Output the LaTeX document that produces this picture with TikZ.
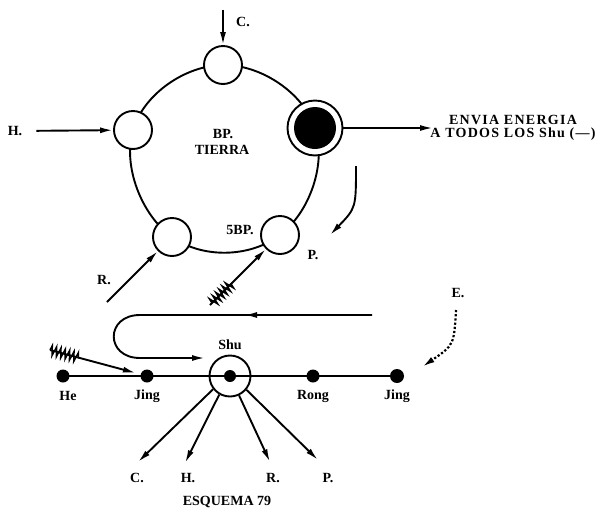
\documentclass[tikz,border=0pt]{standalone}
\usepackage{fontspec}
\setmainfont{Liberation Serif}
\usetikzlibrary{arrows.meta,decorations.pathmorphing,decorations.markings}
\begin{document}
\begin{tikzpicture}[x=1pt,y=-1pt,
  line width=1.9pt,
  every node/.style={font=\bfseries\fontsize{14}{16}\selectfont},
  arr/.style={-{Latex[length=13pt,width=6pt]}},
  ring/.style={circle,draw,fill=white,minimum size=38pt,inner sep=0pt},
  dot/.style={circle,fill=black,minimum size=13pt,inner sep=0pt},
  zz/.style={decorate,decoration={zigzag,amplitude=5pt,segment length=4.5pt},line width=1.4pt},
  wide/.style={align=center,font=\bfseries\fontsize{14}{13}\selectfont\addfontfeature{LetterSpace=9}}
]
\useasboundingbox (0,0) rectangle (603,512);

% ring positions
\coordinate (pt1) at (223,65);
\coordinate (pt2) at (315,128);
\coordinate (pt3) at (280,235);
\coordinate (pt4) at (172,237);
\coordinate (pt5) at (133,130);
\draw plot[smooth cycle, tension=0.75] coordinates {(pt1) (pt2) (pt3) (pt4) (pt5)};

\node[ring] (ct) at (pt1) {};
\node[ring] (cl) at (pt5) {};
\node[ring] (cbl) at (pt4) {};
\node[ring] (cbr) at (pt3) {};
\node[circle,draw,fill=white,minimum size=55pt,inner sep=0pt] (cr) at (pt2) {};
\node[circle,fill=black,minimum size=42pt,inner sep=0pt] (crin) at (pt2) {};

% texts top
\node (bp) at (223,134) {BP.};
\node (tierra) at (222,150) {TIERRA};
\node (sbp) at (240,230) {5BP.};
\node (lp) at (313,255) {P.};
\node (lc) at (243,22) {C.};
\node (lh) at (15,131) {H.};
\node (lr) at (104,280) {R.};
\node[wide] (env) at (513,128) {ENVIA ENERGIA\\A TODOS LOS Shu (—)};

% top arrows
\coordinate (cs) at (223,10);
\draw[arr] (cs) -- (ct);
\draw[arr, shorten <=10pt] (lh) -- (cl);
\coordinate (et) at (433,128);
\draw[arr] (cr) -- (et);
\coordinate (ca) at (356,166);
\coordinate (cb) at (330,235);
\draw[arr] (ca) .. controls (356,208) .. (cb);
\coordinate (rs) at (107,302);
\draw[arr] (rs) -- (cbl);
\coordinate (ps) at (210,305);
\draw[arr] (ps) -- (cbr);
\coordinate (pz1) at (212,303);
\coordinate (pz2) at (232,283);
\draw[zz] (pz1) -- (pz2);

% bottom line
\node[dot] (he) at (63,376) {};
\node[dot] (jl) at (147,376) {};
\node[circle,draw,minimum size=41pt,inner sep=0pt] (shu) at (230,376) {};
\node[dot,minimum size=12pt] (shud) at (230,376) {};
\node[dot] (rong) at (313,376) {};
\node[dot,minimum size=14pt] (jr) at (397,376) {};
\draw (he.center) -- (jl.center) -- (shud.center) -- (rong.center) -- (jr.center);

\node (lhe) at (68,396) {He};
\node (ljl) at (147,396) {Jing};
\node (lrong) at (313,396) {Rong};
\node (ljr) at (397,396) {Jing};
\node (lshu) at (230,345) {Shu};

% left zigzag arrow
\coordinate (zs) at (50,350);
\draw[arr, shorten >=4pt] (zs) -- (jl);
\coordinate (zz1) at (50,350);
\coordinate (zz2) at (80,358);
\draw[zz] (zz1) -- (zz2);

% U-turn
\coordinate (us) at (372,315);
\coordinate (ue) at (205,358);
\draw[arr, postaction={decorate},
  decoration={markings, mark=at position 128pt with {\arrow{Latex[length=13pt,width=6pt]}}}]
  (us) -- (140,315) .. controls (105,315) and (105,358) .. (140,358) -- (ue);

% E dotted
\node (le) at (458,293) {E.};
\coordinate (es) at (456,310);
\coordinate (ee) at (422,367);
\draw[arr, dotted, line width=2.2pt] (es) .. controls (454,345) .. (ee);

% fan
\coordinate (tc) at (138,462);
\coordinate (th) at (185,463);
\coordinate (tr) at (270,462);
\coordinate (tp) at (318,460);
\draw[arr] (shu.218) -- (tc);
\draw[arr] (shu.240) -- (th);
\draw[arr] (shu.295) -- (tr);
\draw[arr] (shu.320) -- (tp);
\node (fc) at (137,478) {C.};
\node (fh) at (188,478) {H.};
\node (fr) at (273,478) {R.};
\node (fp) at (328,478) {P.};
\node (esq) at (227,502) {ESQUEMA 79};
\end{tikzpicture}
\end{document}
